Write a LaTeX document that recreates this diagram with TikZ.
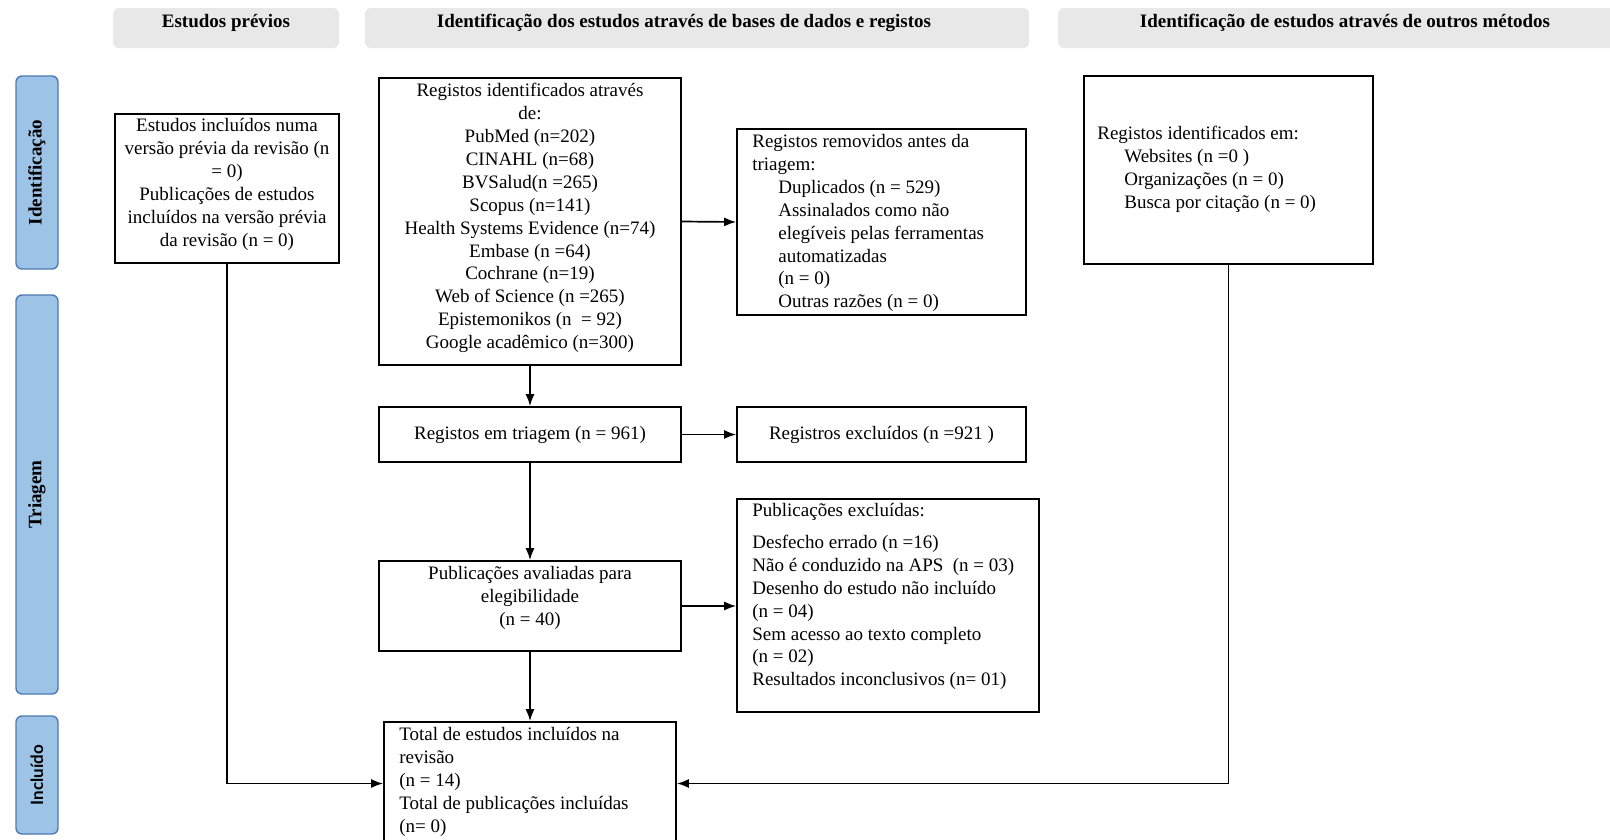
\documentclass[tikz,border=0pt]{standalone}
\usepackage{fontspec}
\setmainfont{Liberation Serif}
\newfontfamily\tabsans{Lato}
\usetikzlibrary{arrows.meta,positioning}

\definecolor{headgray}{RGB}{232,232,232}
\definecolor{tabfill}{RGB}{157,195,230}
\definecolor{tabline}{RGB}{80,122,180}

\tikzset{
  band/.style={fill=headgray, rounded corners=6pt, inner sep=0pt},
  tab/.style={fill=tabfill, draw=tabline, line width=1.4pt, rounded corners=6pt, inner sep=0pt},
  box/.style={draw, line width=1.7pt, inner sep=0pt},
  txt/.style={inner sep=0pt, font=\fontsize{19}{22.9}\selectfont},
  head/.style={inner sep=0pt, font=\fontsize{19}{22.9}\selectfont\bfseries},
  link/.style={line width=1.7pt, -{Latex[length=12pt,width=9pt]}}
}

\begin{document}
\begin{tikzpicture}[x=1pt,y=-1pt]
		\useasboundingbox (0,0) rectangle (1610,839);
		
		%%%%% HEADERS %%%%%
		\node[band, minimum width=226pt, minimum height=40pt] (hprev) at (226,28) {};
		\node[head, anchor=north] (hprevt) at ([yshift=-6pt]hprev.north) {Estudos prévios};
		\node[band, minimum width=664pt, minimum height=40pt] (hdb) at (697,28) {};
		\node[head, anchor=north] (hdbt) at ([xshift=-13pt,yshift=-6pt]hdb.north) {Identificação dos estudos através de bases de dados e registos};
		\node[band, minimum width=560pt, minimum height=40pt] (hother) at (1338,28) {};
		\node[head, anchor=north] (hothert) at ([xshift=7pt,yshift=-6pt]hother.north) {Identificação de estudos através de outros métodos};
		
		%%%%% SIDE TABS %%%%%
		\node[tab, minimum width=42pt, minimum height=193pt] (tabid) at (37,172.5) {};
		\node[head, rotate=90] (tabidt) at (tabid) {Identificação};
		\node[tab, minimum width=42pt, minimum height=399pt] (tabtri) at (37,494.5) {};
		\node[head, rotate=90] (tabtrit) at (tabtri) {Triagem};
		\node[tab, minimum width=42pt, minimum height=118pt] (tabinc) at (37,775) {};
		\node[inner sep=0pt, rotate=90, font=\tabsans\fontsize{17}{20}\selectfont\bfseries] (tabinct) at (tabinc) {Incluído};
		
		%%%%% BOXES %%%%%
		\node[box, minimum width=224pt, minimum height=149pt] (prev) at (227,188.5) {};
		\node[txt, align=center, anchor=north] (prevt) at ([yshift=-5pt]prev.north) {Estudos incluídos numa\\versão prévia da revisão (n\\= 0)\\Publicações de estudos\\incluídos na versão prévia\\da revisão (n = 0)};
		
		\node[box, minimum width=302pt, minimum height=287pt] (db) at (530,221.5) {};
		\node[txt, align=center, anchor=north] (dbt) at ([yshift=-6pt]db.north) {Registos identificados através\\de:\\PubMed (n=202)\\CINAHL (n=68)\\BVSalud(n =265)\\Scopus (n=141)\\Health Systems Evidence (n=74)\\Embase (n =64)\\Cochrane (n=19)\\Web of Science (n =265)\\Epistemonikos (n~~= 92)\\Google acadêmico (n=300)};
		
		\node[box, minimum width=289pt, minimum height=186pt] (removed) at (881.5,222) {};
		\node[txt, align=left, anchor=north west] (removedt) at ([xshift=16pt,yshift=-6pt]removed.north west) {Registos removidos antes da\\triagem:\\\hspace*{26pt}Duplicados (n = 529)\\\hspace*{26pt}Assinalados como não\\\hspace*{26pt}elegíveis pelas ferramentas\\\hspace*{26pt}automatizadas\\\hspace*{26pt}(n = 0)\\\hspace*{26pt}Outras razões (n = 0)};
		
		\node[box, minimum width=289pt, minimum height=188pt] (other) at (1228.5,170) {};
		\node[txt, align=left, anchor=north west] (othert) at ([xshift=14pt,yshift=-51pt]other.north west) {Registos identificados em:\\\hspace*{27pt}Websites (n =0 )\\\hspace*{27pt}Organizações (n = 0)\\\hspace*{27pt}Busca por citação (n = 0)};
		
		\node[box, minimum width=302pt, minimum height=55pt] (triagem) at (530,434.5) {};
		\node[txt] (triagemt) at (triagem) {Registos em triagem (n = 961)};
		
		\node[box, minimum width=289pt, minimum height=55pt] (excl) at (881.5,434.5) {};
		\node[txt] (exclt) at (excl) {Registros excluídos (n =921 )};
		
		\node[box, minimum width=302pt, minimum height=90pt] (elig) at (530,606) {};
		\node[txt, align=center, anchor=north] (eligt) at ([yshift=-6pt]elig.north) {Publicações avaliadas para\\elegibilidade\\(n = 40)};
		
		\node[box, minimum width=302pt, minimum height=213pt] (pubexcl) at (888,605.5) {};
		\node[txt, align=left, anchor=north west] (pubexclt) at ([xshift=16pt,yshift=-5pt]pubexcl.north west) {Publicações excluídas:\\[9pt]Desfecho errado (n =16)\\Não é conduzido na APS~~(n = 03)\\Desenho do estudo não incluído\\(n = 04)\\Sem acesso ao texto completo\\(n = 02)\\Resultados inconclusivos (n= 01)};
		
		\node[box, minimum width=292pt, minimum height=123pt] (total) at (530,783.5) {};
		\node[txt, align=left, anchor=north west] (totalt) at ([xshift=16pt,yshift=-6pt]total.north west) {Total de estudos incluídos na\\revisão\\(n = 14)\\Total de publicações incluídas\\(n= 0)};
		
		%%%%% ARROWS %%%%%
		\draw[link] (db.south) -- (triagem.north);
		\draw[link] (db.east) -- (removed.west);
		\draw[link] (triagem.east) -- (excl.west);
		\draw[link] (triagem.south) -- (elig.north);
		\draw[link] (elig.east) -- (elig.east -| pubexcl.west);
		\draw[link] (elig.south) -- (total.north);
		\draw[link] (prev.south) |- (total.west);
		\draw[link] (other.south) |- (total.east);
		
	\end{tikzpicture}
\end{document}
